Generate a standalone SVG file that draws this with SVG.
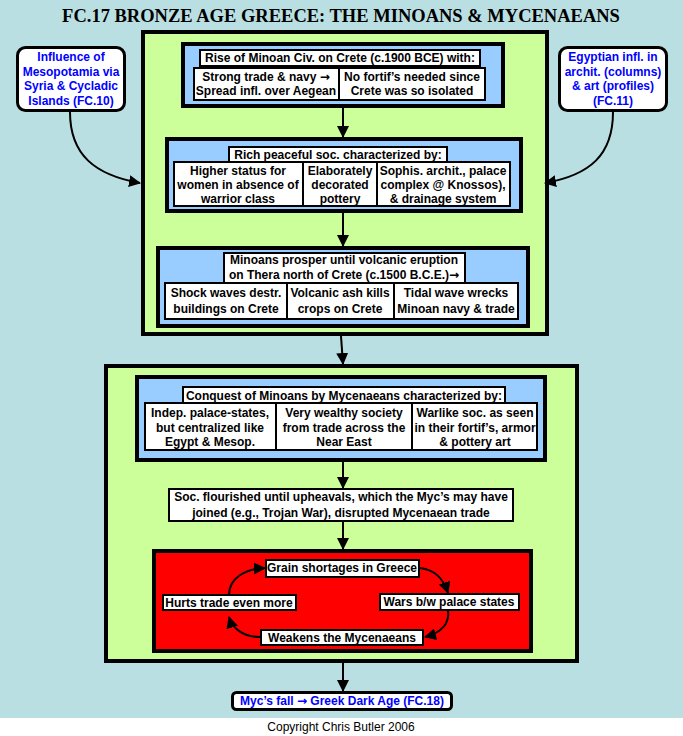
<svg xmlns="http://www.w3.org/2000/svg" width="683" height="736" viewBox="0 0 683 736">
<defs>
<style>
.t{font-family:"Liberation Sans",Arial,sans-serif;font-weight:bold;font-size:12px;fill:#000;text-anchor:middle}
.bt{font-family:"Liberation Sans",Arial,sans-serif;font-weight:bold;font-size:12px;fill:#0000ff;text-anchor:middle}
.ar{font-family:"DejaVu Sans",sans-serif;font-weight:bold}
.green{fill:#ccff99;stroke:#000;stroke-width:4}
.blue{fill:#99ccff;stroke:#000;stroke-width:4}
.wb{fill:#fff;stroke:#000;stroke-width:2}
.wo{fill:none;stroke:#000;stroke-width:2}
.node{fill:#fff;stroke:#000;stroke-width:3}
.red{fill:#ff0000;stroke:#000;stroke-width:4}
.c{fill:none;stroke:#000;stroke-width:2}
</style>
<marker id="ah" markerUnits="userSpaceOnUse" markerWidth="12" markerHeight="12" refX="11" refY="6" orient="auto">
<path d="M0,0 L12,6 L0,12 z" fill="#000"/>
</marker>
</defs>
<rect x="0" y="0" width="683" height="736" fill="#badfe2"/>
<rect x="0" y="718" width="683" height="18" fill="#fff"/>
<text x="341" y="22" style="font-family:'Liberation Serif','Times New Roman',serif;font-weight:bold;font-size:18.5px;text-anchor:middle">FC.17 BRONZE AGE GREECE: THE MINOANS &amp; MYCENAEANS</text>

<g id="minoan-frame"><rect class="green" x="143" y="32" width="404" height="302"/></g>

<g id="rise">
<rect class="blue" x="183" y="44" width="320" height="62"/>
<rect class="wb" x="200" y="50" width="280" height="16"/>
<text class="t" x="340" y="62">Rise of Minoan Civ. on Crete (c.1900 BCE) with:</text>
<rect class="wb" x="194" y="68" width="145" height="32"/>
<text class="t" x="266" y="81">Strong trade &amp; navy <tspan class="ar">→</tspan></text>
<text class="t" x="266" y="95">Spread infl. over Aegean</text>
<rect class="wb" x="339" y="68" width="146" height="32"/>
<text class="t" x="412" y="81">No fortif’s needed since</text>
<text class="t" x="412" y="95">Crete was so isolated</text>
</g>

<g id="rich">
<rect class="blue" x="167" y="139" width="354" height="72"/>
<rect class="wb" x="229" y="147" width="218" height="15"/>
<text class="t" x="338" y="159">Rich peaceful soc. characterized by:</text>
<rect class="wb" x="174" y="162" width="129" height="44"/>
<text class="t" x="238" y="175">Higher status for</text>
<text class="t" x="238" y="189">women in absence of</text>
<text class="t" x="238" y="203">warrior class</text>
<rect class="wb" x="303" y="162" width="74" height="44"/>
<text class="t" x="340" y="175">Elaborately</text>
<text class="t" x="340" y="189">decorated</text>
<text class="t" x="340" y="203">pottery</text>
<rect class="wb" x="377" y="162" width="133" height="44"/>
<text class="t" x="443" y="175">Sophis. archit., palace</text>
<text class="t" x="443" y="189">complex @ Knossos),</text>
<text class="t" x="443" y="203">&amp; drainage system</text>
</g>

<g id="eruption">
<rect class="blue" x="158" y="248" width="370" height="78"/>
<rect class="wb" x="224" y="253" width="241" height="30"/>
<text class="t" x="344" y="264">Minoans prosper until volcanic eruption</text>
<text class="t" x="344" y="279">on Thera north of Crete (c.1500 B.C.E.)<tspan class="ar">→</tspan></text>
<rect class="wb" x="165" y="283" width="122" height="36"/>
<text class="t" x="226" y="297">Shock waves destr.</text>
<text class="t" x="226" y="313">buildings on Crete</text>
<rect class="wb" x="287" y="283" width="107" height="36"/>
<text class="t" x="340" y="297">Volcanic ash kills</text>
<text class="t" x="340" y="313">crops on Crete</text>
<rect class="wb" x="394" y="283" width="124" height="36"/>
<text class="t" x="456" y="297">Tidal wave wrecks</text>
<text class="t" x="456" y="313">Minoan navy &amp; trade</text>
</g>

<g id="mesopotamia">
<rect class="node" x="17.5" y="47.5" width="107" height="63" rx="8"/>
<text class="bt" x="71" y="61">Influence of</text>
<text class="bt" x="71" y="76">Mesopotamia via</text>
<text class="bt" x="71" y="90">Syria &amp; Cycladic</text>
<text class="bt" x="71" y="105">Islands (FC.10)</text>
</g>

<g id="egypt">
<rect class="node" x="559.5" y="47.5" width="107" height="63" rx="8"/>
<text class="bt" x="613" y="61">Egyptian infl. in</text>
<text class="bt" x="613" y="76">archit. (columns)</text>
<text class="bt" x="613" y="90">&amp; art (profiles)</text>
<text class="bt" x="613" y="105">(FC.11)</text>
</g>

<g id="mycenaean-frame"><rect class="green" x="106" y="366" width="471" height="295"/></g>

<g id="conquest">
<rect class="blue" x="137" y="377" width="408" height="83"/>
<rect class="wb" x="183" y="387" width="322" height="16"/>
<text class="t" x="344" y="400">Conquest of Minoans by Mycenaeans characterized by:</text>
<rect class="wb" x="145" y="403" width="131" height="47"/>
<text class="t" x="210" y="417">Indep. palace-states,</text>
<text class="t" x="210" y="432">but centralized like</text>
<text class="t" x="210" y="446">Egypt &amp; Mesop.</text>
<rect class="wb" x="276" y="403" width="136" height="47"/>
<text class="t" x="344" y="417">Very wealthy society</text>
<text class="t" x="344" y="432">from trade across the</text>
<text class="t" x="344" y="446">Near East</text>
<rect class="wb" x="412" y="403" width="125" height="47"/>
<text class="t" x="475" y="417">Warlike soc. as seen</text>
<text class="t" x="475" y="432">in their fortif’s, armor</text>
<text class="t" x="475" y="446">&amp; pottery art</text>
<rect class="wo" x="412" y="403" width="125" height="47"/>
</g>

<g id="flourished">
<rect class="wb" x="169" y="489" width="344" height="32"/>
<text class="t" x="341" y="501">Soc. flourished until upheavals, which the Myc’s may have</text>
<text class="t" x="341" y="517">joined (e.g., Trojan War), disrupted Mycenaean trade</text>
</g>

<g id="cycle-frame"><rect class="red" x="154" y="551" width="377" height="100"/></g>
<g id="grain">
<rect class="wb" x="266" y="560" width="153" height="17"/>
<text class="t" x="342" y="572">Grain shortages in Greece</text>
</g>
<g id="wars">
<rect class="wb" x="380" y="594" width="139" height="16"/>
<text class="t" x="449" y="606">Wars b/w palace states</text>
</g>
<g id="weakens">
<rect class="wb" x="261" y="630" width="162" height="15"/>
<text class="t" x="342" y="642">Weakens the Mycenaeans</text>
</g>
<g id="hurts">
<rect class="wb" x="163" y="595" width="133" height="15"/>
<text class="t" x="229" y="607">Hurts trade even more</text>
</g>

<g id="dark-age">
<rect class="node" x="232.5" y="692.5" width="219" height="17" rx="4"/>
<text class="bt" x="342" y="705">Myc’s fall <tspan class="ar">→</tspan> Greek Dark Age (FC.18)</text>
</g>

<g id="connectors">
<line class="c" x1="343" y1="108" x2="343" y2="137" marker-end="url(#ah)"/>
<line class="c" x1="343" y1="213" x2="343" y2="246" marker-end="url(#ah)"/>
<line class="c" x1="341" y1="336" x2="343" y2="364" marker-end="url(#ah)"/>
<line class="c" x1="343" y1="462" x2="343" y2="488" marker-end="url(#ah)"/>
<line class="c" x1="343" y1="521" x2="343" y2="549" marker-end="url(#ah)"/>
<line class="c" x1="343" y1="663" x2="343" y2="691" marker-end="url(#ah)"/>
<path class="c" d="M70,112 C70,155 95,175 140,183" marker-end="url(#ah)"/>
<path class="c" d="M613,112 C613,155 590,175 545,183" marker-end="url(#ah)"/>
<path class="c" d="M420,568 C435,570 443,578 448,593" marker-end="url(#ah)"/>
<path class="c" d="M448,610 C450,625 440,633 425,637" marker-end="url(#ah)"/>
<path class="c" d="M260,637 C245,637 233,630 229,617" marker-end="url(#ah)"/>
<path class="c" d="M229,595 C229,578 245,569 265,568" marker-end="url(#ah)"/>
</g>

<text x="341" y="731" style="font-family:'Liberation Sans',Arial,sans-serif;font-size:12px;text-anchor:middle">Copyright Chris Butler 2006</text>
</svg>
